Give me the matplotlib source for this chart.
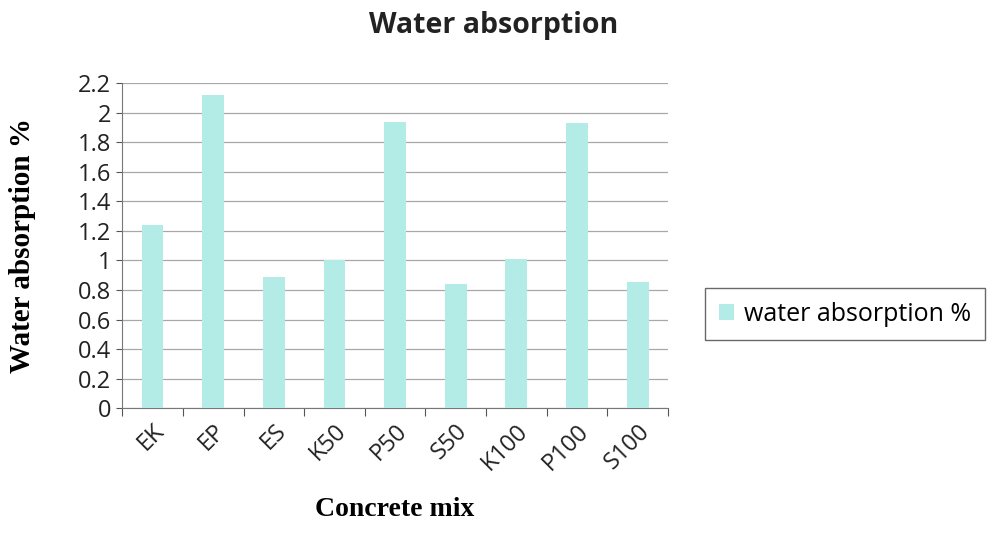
import matplotlib
matplotlib.use("Agg")
import matplotlib.pyplot as plt
import numpy as np

# ---------- data ----------
mixes = ["EK", "EP", "ES", "K50", "P50", "S50", "K100", "P100", "S100"]
absorption = [1.24, 2.12, 0.89, 1.00, 1.94, 0.84, 1.01, 1.93, 0.855]
yticks = [0, 0.2, 0.4, 0.6, 0.8, 1, 1.2, 1.4, 1.6, 1.8, 2, 2.2]
ytick_labels = ["0", "0.2", "0.4", "0.6", "0.8", "1", "1.2", "1.4", "1.6", "1.8", "2", "2.2"]

BAR_COLOR = "#b3ebe7"
SANS = ["Open Sans", "DejaVu Sans"]
SERIF = ["Liberation Serif", "DejaVu Serif"]

fig = plt.figure(figsize=(9.94, 5.37), dpi=100)
fig.patch.set_facecolor("white")
ax = fig.add_axes([0.123, 0.240, 0.549, 0.605])

x = np.arange(len(mixes))
bars = ax.bar(x, absorption, width=0.36, color=BAR_COLOR, edgecolor="none",
              label="water absorption %", zorder=3)

ax.set_xlim(-0.5, len(mixes) - 0.5)
ax.set_ylim(0, 2.2)
ax.set_yticks(yticks)
ax.set_yticklabels(ytick_labels, family=SANS, fontsize=17, color="#222222")
ax.yaxis.grid(True, color="#a8a8a8", linewidth=0.9, zorder=0)
ax.set_axisbelow(True)

# category ticks sit between bars, labels at bar centres
ax.set_xticks(np.arange(-0.5, len(mixes)), minor=False)
ax.set_xticklabels([""] * (len(mixes) + 1))
ax.set_xticks(x, minor=True)
ax.set_xticklabels(mixes, minor=True, rotation=45, ha="right", va="top",
                   rotation_mode="anchor", family=SANS, fontsize=17, color="#222222")
ax.tick_params(axis="x", which="minor", length=0, pad=8)
ax.tick_params(axis="x", which="major", length=6, color="#555555")
ax.tick_params(axis="y", length=4, color="#555555", pad=4)

for side in ("top", "right"):
    ax.spines[side].set_visible(False)
ax.spines["left"].set_color("#777777")
ax.spines["bottom"].set_color("#777777")

ax.set_xlabel("Concrete mix", family=SERIF, fontweight="bold", fontsize=20,
              labelpad=16)
ax.set_ylabel("Water absorption %", family=SERIF, fontweight="bold", fontsize=21,
              labelpad=30)

fig.text(0.497, 0.953, "Water absorption", family=SANS, fontweight="bold",
         fontsize=20.5, ha="center", va="center", color="#222222")

leg = fig.legend(handles=[bars], loc="center left", bbox_to_anchor=(0.697, 0.415),
                 frameon=True, fancybox=False, edgecolor="#444444",
                 prop={"family": SANS, "size": 18}, handlelength=0.6,
                 handleheight=0.6, handletextpad=0.4, borderpad=0.55)
leg.get_frame().set_linewidth(1.0)

fig.savefig("out.png", dpi=100, facecolor="white")
print("saved")
